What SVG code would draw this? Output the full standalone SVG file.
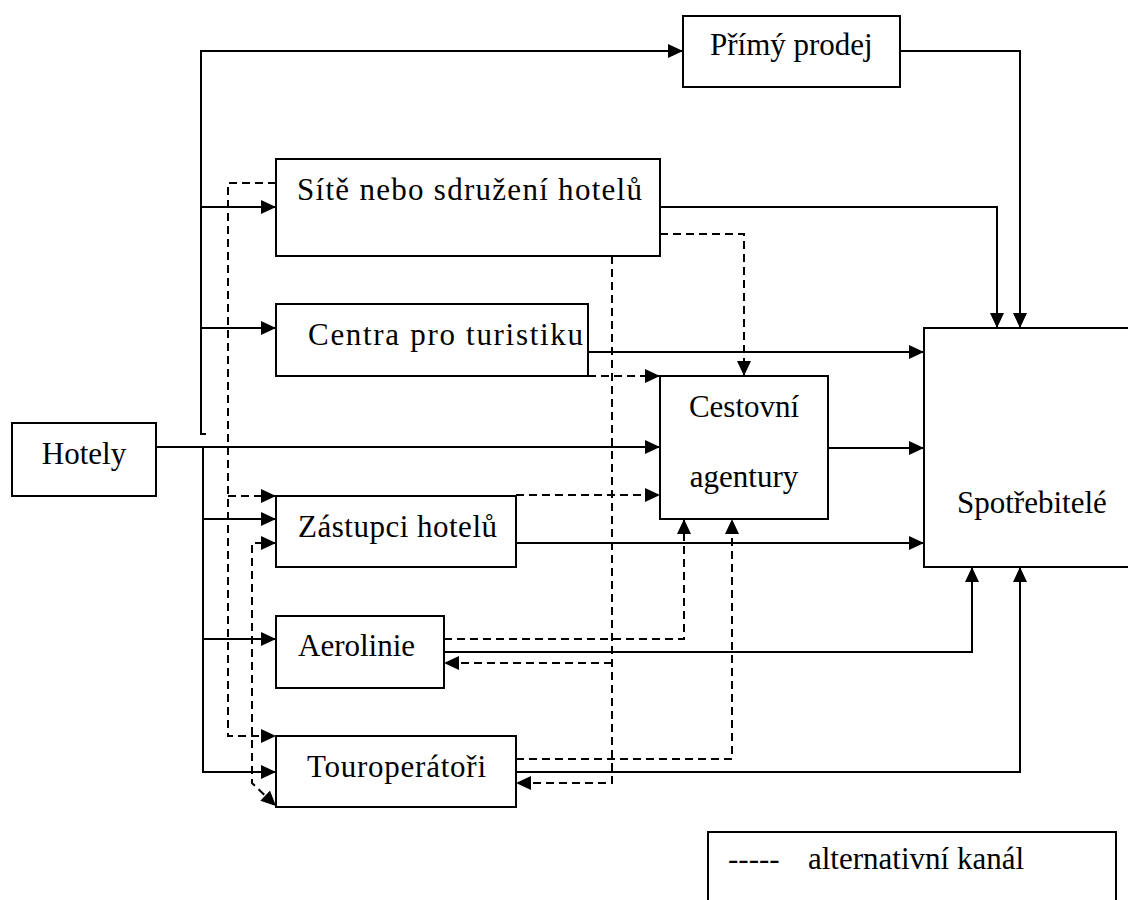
<svg xmlns="http://www.w3.org/2000/svg" width="1128" height="900" viewBox="0 0 1128 900">
<defs>
<marker id="arr" markerUnits="userSpaceOnUse" markerWidth="15" markerHeight="14" refX="15" refY="7" orient="auto-start-reverse">
<path d="M0,0 L15,7 L0,14 z" fill="#000"/>
</marker>
<style>
.box{fill:#fff;stroke:#000;stroke-width:2}
.t{font-family:"Liberation Serif","Times New Roman",serif;font-size:31px;fill:#000}
.s{fill:none;stroke:#000;stroke-width:2}
.d{fill:none;stroke:#000;stroke-width:2;stroke-dasharray:8 5}
.a{marker-end:url(#arr)}
</style>
</defs>
<rect width="1128" height="900" fill="#fff"/>
<g id="connectors">
<path class="s" d="M206,434 H201 V51 H683" marker-end="url(#arr)"/>
<path class="s a" d="M201,207 H276"/>
<path class="s a" d="M201,328 H276"/>
<path class="s a" d="M156,447 H660"/>
<path class="s a" d="M203,447 V772 H276"/>
<path class="s a" d="M203,519 H276"/>
<path class="s a" d="M203,639 H276"/>
<path class="s a" d="M900,51 H1020 V328"/>
<path class="s a" d="M660,207 H997 V328"/>
<path class="s a" d="M588,352 H924"/>
<path class="s a" d="M828,448 H924"/>
<path class="s a" d="M516,543 H924"/>
<path class="s a" d="M444,652 H972 V567"/>
<path class="s a" d="M516,772 H1020 V567"/>
<path class="d a" d="M276,183 H228 V736 H276"/>
<path class="d a" d="M228,496 H276"/>
<path class="d a" d="M276,543 H252 V783 L276,806" marker-start="url(#arr)"/>
<path class="d a" d="M612,256 V783 H516"/>
<path class="d a" d="M612,663 H444"/>
<path class="d a" d="M660,234 H744 V376"/>
<path class="d a" d="M588,376 H660"/>
<path class="d a" d="M516,495 H660"/>
<path class="d a" d="M444,639 H684 V519"/>
<path class="d a" d="M516,759 H732 V519"/>
</g>
<g id="hotely">
<rect class="box" x="12" y="423" width="144" height="73"/>
<text class="t" x="84" y="464" text-anchor="middle">Hotely</text>
</g>
<g id="primy-prodej">
<rect class="box" x="683" y="16" width="217" height="71"/>
<text class="t" x="710" y="55">Přímý prodej</text>
</g>
<g id="site">
<rect class="box" x="276" y="159" width="384" height="97"/>
<text class="t" x="297" y="200" textLength="345" lengthAdjust="spacing">Sítě nebo sdružení hotelů</text>
</g>
<g id="centra">
<rect class="box" x="276" y="304" width="312" height="72"/>
<text class="t" x="308" y="345" textLength="275" lengthAdjust="spacing">Centra pro turistiku</text>
</g>
<g id="cestovni">
<rect class="box" x="660" y="376" width="168" height="143"/>
<text class="t" x="744" y="417" text-anchor="middle">Cestovní</text>
<text class="t" x="744" y="487" text-anchor="middle">agentury</text>
</g>
<g id="spotrebitele">
<rect class="box" x="924" y="328" width="210" height="239"/>
<text class="t" x="957" y="513">Spotřebitelé</text>
</g>
<g id="zastupci">
<rect class="box" x="276" y="496" width="240" height="71"/>
<text class="t" x="298" y="537" textLength="199" lengthAdjust="spacing">Zástupci hotelů</text>
</g>
<g id="aerolinie">
<rect class="box" x="276" y="616" width="168" height="72"/>
<text class="t" x="298" y="656">Aerolinie</text>
</g>
<g id="touroperatori">
<rect class="box" x="276" y="736" width="240" height="71"/>
<text class="t" x="307" y="777" textLength="179" lengthAdjust="spacing">Touroperátoři</text>
</g>
<g id="legend">
<rect class="box" x="708" y="832" width="408" height="80"/>
<text class="t" x="728" y="869">-----</text>
<text class="t" x="808" y="869">alternativní kanál</text>
</g>
</svg>
